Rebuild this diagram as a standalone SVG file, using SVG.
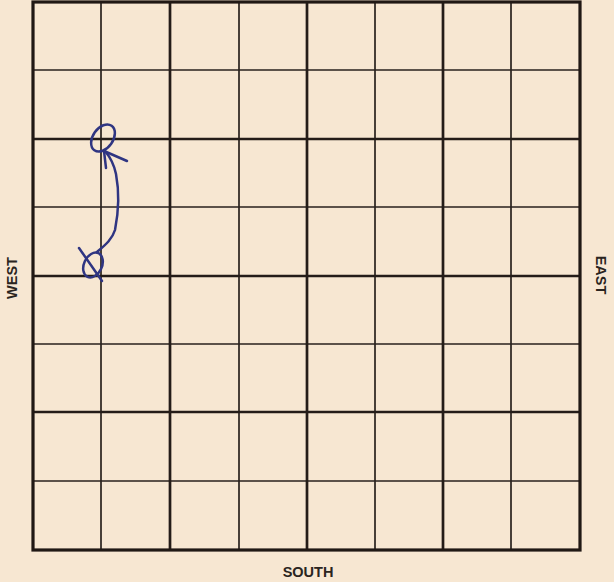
<svg xmlns="http://www.w3.org/2000/svg" width="614" height="582" viewBox="0 0 614 582">
<style>
.thin{stroke:#2a221e;stroke-width:1.7;fill:none}
.thick{stroke:#241c18;stroke-width:2.7;fill:none}
.border{stroke:#201814;stroke-width:3.2;fill:none}
.lbl{font-family:"Liberation Sans",Arial,sans-serif;font-weight:bold;font-size:14.5px;fill:#2a2420}
.pen{stroke:#2f3582;stroke-width:2.5;fill:none;stroke-linecap:round;stroke-linejoin:round}
</style>
<rect width="614" height="582" fill="#f7e7d2"/>
<g id="grid">
<path class="thin" d="M101,2V550M239,2V550M375,2V550M511,2V550M33,70H580M33,207H580M33,344H580M33,481H580"/>
<path class="thick" d="M170,2V550M307,2V550M443,2V550M33,139H580M33,276H580M33,412H580"/>
<rect class="border" x="33" y="2" width="547" height="548"/>
</g>
<g id="labels">
<text class="lbl" x="308" y="577" text-anchor="middle">SOUTH</text>
<text class="lbl" transform="translate(17,278) rotate(-90)" text-anchor="middle">WEST</text>
<text class="lbl" transform="translate(596,275) rotate(90)" text-anchor="middle">EAST</text>
</g>
<g id="mark-end">
<ellipse class="pen" cx="103" cy="138" rx="15" ry="10" transform="rotate(-55 103 138)"/>
</g>
<g id="mark-start">
<ellipse class="pen" cx="93" cy="265" rx="9" ry="13" transform="rotate(25 93 265)"/>
<path class="pen" d="M79,248 L102,281"/>
</g>
<g id="connectors">
<path class="pen" d="M97,252 C104,246 112,240 115,230 C119,210 119,190 116,174 C114,164 110,157 105,151"/>
<path class="pen" d="M106,168 L104,151 L127,161"/>
</g>
</svg>
